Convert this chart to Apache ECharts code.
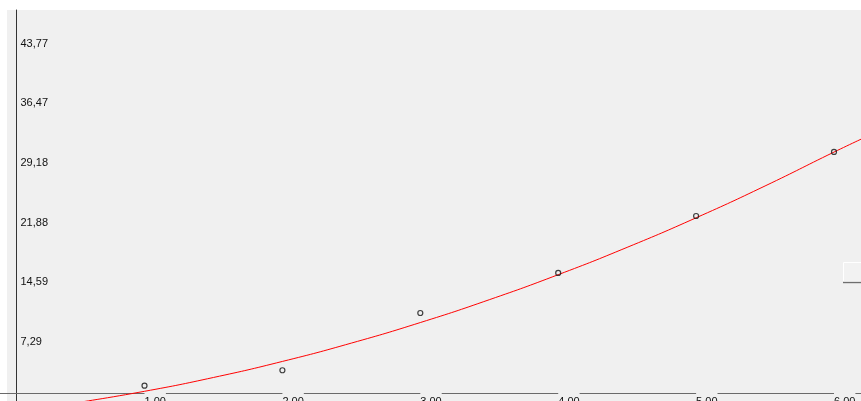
<!DOCTYPE html>
<html>
<head>
<meta charset="utf-8">
<script src="https://cdn.jsdelivr.net/npm/echarts@6/dist/echarts.min.js"></script>
<style>
  html, body { margin: 0; padding: 0; background: #ffffff; }
  #chart { width: 861px; height: 401px; }
</style>
</head>
<body>
<div id="chart"></div>
<script>
// Measured points (x, y)
const pointX = [1, 2, 3, 4, 5, 6];
const pointY = [1.96, 3.84, 10.84, 15.73, 22.69, 30.52];

// Fitted trend curve, sampled along its length
const curveX = [0.5, 1.0, 1.5, 2.0, 2.5, 3.0, 3.5, 4.0, 4.5, 5.0, 5.5, 6.0, 6.25];
const curveY = [-0.14, 1.27, 2.96, 4.92, 7.16, 9.67, 12.46, 15.52, 18.86, 22.47, 26.36, 30.50, 32.50];

// Axis ticks
const xTickValues = [1, 2, 3, 4, 5, 6];
const yTickStep = 7.2944;
const xRange = [-0.0479, 6.1958];
const yRange = [0, 47.86];

const fmt = v => v.toFixed(2).replace('.', ',');
const labelFont = 'Liberation Sans';

const chart = echarts.init(document.getElementById('chart'), null, { renderer: 'canvas' });

chart.setOption({
  animation: false,
  backgroundColor: '#ffffff',
  grid: { left: 0, right: 0, top: 10, bottom: -0.7, containLabel: false, outerBoundsMode: 'none' },
  graphic: [
    {
      type: 'rect', z: -10, silent: true,
      shape: { x: 7, y: 10, width: 854, height: 391 },
      style: { fill: '#f0f0f0' }
    },
    {
      type: 'group', z: 50,
      children: [
        { type: 'rect', shape: { x: 843.5, y: 262.5, width: 20, height: 19 },
          style: { fill: '#f2f2f2', stroke: '#ffffff', lineWidth: 1 } },
        { type: 'line', shape: { x1: 843, y1: 282.5, x2: 861, y2: 282.5 },
          style: { stroke: '#6e6e6e', lineWidth: 1.4 } }
      ]
    }
  ],
  xAxis: {
    type: 'value',
    min: xRange[0],
    max: xRange[1],
    position: 'bottom',
    offset: -8.7,
    splitLine: { show: false },
    axisTick: { show: false },
    axisLine: { show: true, onZero: false, lineStyle: { color: '#6a6a6a', width: 1 } },
    axisLabel: {
      show: true,
      customValues: xTickValues,
      formatter: v => fmt(v),
      align: 'left',
      verticalAlign: 'top',
      margin: 0,
      padding: [3, 0, 0, 0],
      backgroundColor: '#f0f0f0',
      color: '#111111',
      fontFamily: labelFont,
      fontSize: 11
    }
  },
  yAxis: {
    type: 'value',
    min: yRange[0],
    max: yRange[1],
    interval: yTickStep,
    position: 'left',
    offset: -16,
    splitLine: { show: false },
    axisTick: { show: false },
    axisLine: { show: true, onZero: false, lineStyle: { color: '#333333', width: 1 } },
    axisLabel: {
      inside: true,
      margin: 4.5,
      showMinLabel: false,
      showMaxLabel: false,
      formatter: v => fmt(v),
      color: '#111111',
      fontFamily: labelFont,
      fontSize: 11
    }
  },
  series: [
    {
      type: 'line',
      data: curveX.map((x, i) => [x, curveY[i]]),
      smooth: true,
      showSymbol: false,
      clip: true,
      lineStyle: { color: '#ff0000', width: 1 },
      z: 3
    },
    {
      type: 'scatter',
      data: pointX.map((x, i) => [x, pointY[i]]),
      symbol: 'circle',
      symbolSize: 5,
      itemStyle: { color: 'rgba(240,240,240,0)', borderColor: '#111111', borderWidth: 1.2 },
      z: 4
    }
  ]
});
</script>
</body>
</html>
